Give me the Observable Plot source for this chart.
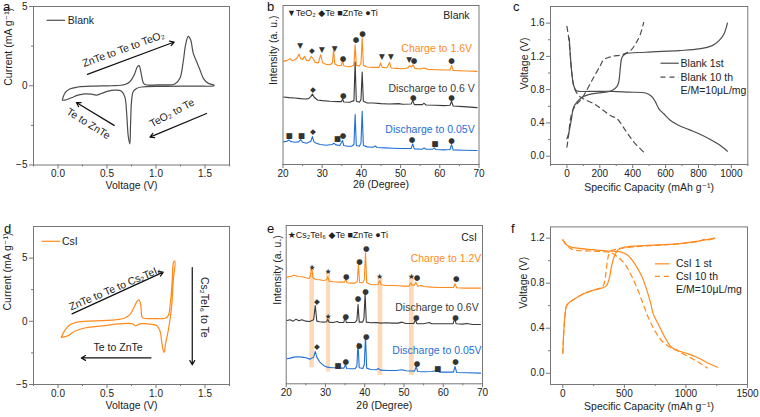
<!DOCTYPE html>
<html><head><meta charset="utf-8">
<script src="https://cdn.jsdelivr.net/npm/d3@7"></script>
<script src="https://cdn.jsdelivr.net/npm/@observablehq/plot@0.6"></script>
<style>
body{margin:0;background:#fff;}
#fig{position:relative;width:760px;height:417px;overflow:hidden;background:#fff;}
</style></head><body><div id="fig"></div>
<script>
// ---------- Panel a: CV, Blank ----------
const aVolt = [0.044,0.068,0.119,0.204,0.375,0.545,0.682,0.733,0.777,0.811,0.828,0.845,0.869,0.886,1.057,1.193,1.244,1.278,1.302,1.329,1.353,1.38,1.414,1.449,1.483,1.534,1.592,1.59,1.397,1.057,0.852,0.801,0.767,0.75,0.74,0.733,0.716,0.702,0.682,0.648,0.579,0.511,0.443,0.392,0.341,0.273,0.204,0.136,0.068,0.044];
const aCurr = [-0.91,-0.49,-0.21,-0.08,-0.02,0,0.08,0.25,0.68,1.21,1.27,0.89,0.21,0.08,0.06,0.11,0.47,1.53,2.58,3.11,2.9,2.06,1.53,1.0,0.47,0.15,0.04,0,-0.02,-0.04,-0.08,-0.17,-0.38,-1.02,-2.5,-3.67,-3.14,-1.86,-0.7,-0.34,-0.28,-0.34,-0.49,-0.59,-0.53,-0.51,-0.59,-0.76,-0.91,-0.91];

// ---------- Panel d: CV, CsI ----------
const dVolt = [0.034,0.068,0.119,0.187,0.375,0.579,0.682,0.733,0.777,0.811,0.828,0.845,0.859,0.879,0.988,1.091,1.125,1.149,1.166,1.179,1.193,1.176,1.159,1.125,1.097,1.084,1.07,1.057,1.04,1.005,0.92,0.852,0.818,0.791,0.767,0.716,0.614,0.477,0.375,0.273,0.17,0.102,0.034];
const dCurr = [-1.27,-0.74,-0.29,-0.08,0.03,0.11,0.26,0.53,1.11,1.64,1.69,1.24,0.32,0.24,0.21,0.24,0.45,1.64,3.23,4.68,4.76,3.23,1.11,-0.74,-1.8,-2.46,-2.2,-1.53,-0.74,-0.34,-0.21,-0.19,-0.26,-0.37,-0.21,-0.16,-0.21,-0.34,-0.42,-0.53,-0.79,-1.14,-1.27];

// ---------- Panel b: XRD, Blank ([2θ, intensity offset]) ----------
const bCharge = [[20.2,310],[21.0,313],[21.8,318],[22.3,312],[23.0,315],[23.6,320],[24.1,332],[24.5,318],[25.0,316],[25.5,325],[26.0,313],[26.6,312],[27.2,325],[27.6,320],[28.2,307],[29.0,305],[29.6,330],[30.1,306],[31.0,301],[32.0,300],[32.6,305],[32.9,345],[33.2,303],[34.0,297],[34.9,298],[35.2,312],[35.5,297],[36.5,294],[37.5,295],[38.1,300],[38.4,360],[38.7,298],[39.5,296],[39.9,305],[40.2,382],[40.5,298],[41.5,293],[43.0,292],[44.5,292],[44.9,305],[45.3,292],[46.5,291],[47.2,307],[47.6,290],[49.0,289],[50.5,288],[51.8,290],[52.3,297],[52.8,293],[53.2,300],[53.6,289],[55.0,287],[56.0,290],[57.0,286],[59.0,285],[61.0,284],[62.6,284],[63.0,298],[63.4,283],[65.0,282],[67.0,281],[69.5,280]];
const bDis06 = [[20.2,203],[21.5,201],[23.0,200],[24.5,198],[25.5,197],[26.5,198],[27.1,204],[27.5,212],[27.9,203],[28.8,194],[30.0,192],[32.0,190],[34.0,189],[34.9,189],[35.2,197],[35.5,188],[37.0,187],[38.1,192],[38.4,308],[38.7,190],[39.5,187],[39.9,195],[40.2,278],[40.5,190],[41.5,185],[43.0,185],[45.0,183],[47.0,182],[49.5,183],[50.5,181],[52.7,182],[53.1,192],[53.5,180],[55.5,180],[56.0,184],[56.5,179],[59.0,178],[61.0,177],[62.6,178],[63.0,190],[63.4,176],[66.0,174],[69.5,171]];
const bDis005 = [[20.2,68],[21.0,70],[21.5,74],[22.0,69],[23.0,67],[24.0,68],[24.5,75],[25.0,67],[26.0,64],[27.1,70],[27.5,84],[27.9,68],[28.5,64],[29.5,60],[31.0,58],[32.5,60],[33.0,64],[33.5,59],[34.5,57],[35.2,72],[35.5,57],[36.5,55],[37.5,55],[38.1,60],[38.4,150],[38.7,57],[39.5,55],[39.9,65],[40.2,160],[40.5,57],[41.5,53],[43.0,52],[43.5,56],[44.0,51],[46.0,50],[48.0,49],[50.0,48],[52.7,48],[53.1,62],[53.5,47],[55.5,46],[56.0,50],[56.5,46],[58.2,46],[58.6,50],[59.0,45],[61.0,44],[62.6,45],[63.0,60],[63.4,44],[66.0,43],[69.5,42]];
const bMarkers = [[24.4,356,"▼"],[27.4,341,"◆"],[29.9,346,"▼"],[33.2,348,"▼"],[35.3,317,"●"],[38.6,375,"●"],[40.3,395,"●"],[45.2,325,"▼"],[47.5,325,"▼"],[52.2,315,"▼"],[53.4,313,"●"],[63.0,312,"●"],
  [27.6,225,"◆"],[35.4,206,"●"],[53.2,200,"●"],[63.0,200,"●"],
  [21.6,88,"■"],[24.7,88,"■"],[27.6,100,"◆"],[33.9,79,"■"],[35.3,86,"●"],[52.9,75,"●"],[58.8,63,"■"],[63.0,73,"●"]];
const bLabels = [[59.2,347,"Charge to 1.6V","#ff8a1c"],[57.9,229,"Discharge to 0.6 V","#3a3a3a"],[57.5,106,"Discharge to 0.05V","#1f6fd6"]];

// ---------- Panel e: XRD, CsI ----------
const eCharge = [[20.2,320],[21.0,322],[22.0,326],[23.0,322],[24.0,321],[25.0,318],[25.8,316],[26.2,325],[26.5,355],[26.8,318],[27.5,313],[28.5,312],[29.5,310],[30.3,312],[30.6,322],[30.9,308],[32.0,306],[33.5,305],[34.8,305],[35.2,313],[35.5,303],[36.5,302],[37.5,302],[38.1,307],[38.4,357],[38.7,304],[39.5,303],[39.9,312],[40.2,393],[40.5,303],[41.5,298],[42.5,297],[43.4,298],[43.8,310],[44.2,297],[45.5,295],[47.0,295],[48.5,294],[50.0,293],[51.3,293],[51.7,303],[52.1,295],[52.6,296],[53.0,305],[53.5,293],[54.5,295],[55.0,292],[57.0,290],[59.0,289],[61.0,289],[62.6,289],[63.0,300],[63.4,288],[65.5,287],[67.0,287],[69.5,287]];
const eDis06 = [[20.2,190],[21.0,192],[21.8,188],[22.5,194],[23.2,189],[24.0,192],[25.0,188],[26.0,187],[27.0,192],[27.4,235],[27.8,188],[28.5,186],[29.5,185],[30.3,186],[30.6,194],[30.9,185],[32.0,184],[33.0,187],[33.5,184],[34.7,184],[35.0,205],[35.3,184],[36.5,184],[37.5,184],[38.0,190],[38.3,238],[38.6,185],[39.5,185],[39.8,196],[40.1,270],[40.4,185],[41.5,183],[43.0,184],[44.0,182],[45.5,183],[47.0,182],[48.5,182],[49.5,185],[50.5,181],[52.5,181],[52.9,192],[53.3,180],[55.0,180],[56.5,184],[57.0,180],[59.0,180],[61.0,180],[62.5,180],[62.9,195],[63.3,180],[65.0,179],[66.0,181],[67.5,178],[69.5,178]];
const eDis005 = [[20.2,75],[21.0,77],[22.0,80],[23.0,81],[24.0,80],[25.0,78],[26.0,74],[27.0,80],[27.4,97],[27.8,80],[28.5,66],[29.5,55],[30.5,50],[31.5,48],[32.7,48],[33.0,52],[33.3,47],[34.7,47],[35.1,58],[35.4,46],[36.5,45],[37.5,45],[38.0,52],[38.3,122],[38.6,48],[39.5,46],[39.9,58],[40.2,145],[40.5,47],[41.5,43],[43.0,42],[43.4,46],[44.0,41],[46.0,40],[48.0,40],[49.5,42],[50.5,39],[52.7,38],[53.1,52],[53.5,37],[55.0,36],[57.0,37],[58.5,40],[59.0,35],[61.0,35],[62.6,35],[63.0,52],[63.4,34],[66.0,33],[69.5,32]];
const eMarkers = [[26.6,350,"★"],[30.7,338,"★"],[35.3,322,"●"],[38.7,367,"●"],[40.4,405,"●"],[43.8,322,"★"],[51.9,323,"★"],[53.3,320,"●"],[63.3,315,"●"],
  [27.8,248,"◆"],[30.7,202,"★"],[35.2,202,"●"],[38.3,255,"●"],[40.2,278,"●"],[53.1,200,"●"],[63.1,200,"●"],
  [27.8,112,"◆"],[33.2,55,"■"],[35.2,68,"●"],[38.6,115,"●"],[40.4,142,"●"],[53.3,60,"●"],[58.6,45,"■"],[63.1,67,"●"]];
const eBands = [[26.0,27.2,48,335],[30.3,31.3,35,335],[43.4,44.6,25,320],[51.4,52.6,25,320]];
const eLabels = [[60.7,375,"Charge to 1.2V","#ff8a1c"],[58.4,229,"Discharge to 0.6V","#3a3a3a"],[58.4,99,"Discharge to 0.05V","#1f6fd6"]];

// ---------- Panel c: galvanostatic, Blank ([capacity, voltage]) ----------
const c1stDis = [[14,1.42],[20,1.23],[30,0.99],[41,0.85],[55,0.79],[71,0.78],[173,0.78],[274,0.78],[376,0.77],[478,0.76],[514,0.72],[539,0.65],[559,0.57],[589,0.51],[630,0.43],[681,0.37],[742,0.32],[803,0.27],[864,0.21],[925,0.14],[976,0.06]];
const c1stChg = [[0,0.21],[10,0.27],[26,0.43],[41,0.59],[61,0.65],[91,0.71],[152,0.75],[234,0.77],[274,0.79],[305,0.84],[315,0.89],[325,1.07],[335,1.19],[356,1.23],[478,1.25],[681,1.27],[803,1.29],[884,1.33],[925,1.39],[955,1.47],[976,1.6]];
const c10Dis = [[0,1.56],[10,1.43],[20,1.23],[30,0.99],[45,0.82],[71,0.73],[91,0.70],[173,0.62],[264,0.49],[305,0.45],[356,0.31],[407,0.17],[467,0.05]];
const c10Chg = [[0,0.11],[10,0.25],[20,0.43],[35,0.55],[61,0.63],[81,0.67],[102,0.73],[152,0.91],[203,1.09],[224,1.16],[274,1.2],[335,1.22],[386,1.27],[417,1.35],[447,1.47],[467,1.61]];

// ---------- Panel f: galvanostatic, CsI ----------
const f1stChg = [[0,0.178],[27,0.587],[41,0.616],[95,0.66],[177,0.711],[258,0.741],[313,0.756],[353,0.776],[380,0.853],[394,0.942],[421,1.046],[448,1.096],[503,1.12],[666,1.135],[938,1.15],[1100,1.173],[1236,1.2]];
const f1stDis = [[0,1.185],[27,1.144],[68,1.12],[258,1.096],[394,1.084],[476,1.076],[530,1.046],[584,0.972],[639,0.868],[679,0.75],[715,0.616],[734,0.527],[774,0.439],[829,0.32],[883,0.231],[938,0.2],[1019,0.172],[1101,0.136],[1182,0.089],[1258,0.053]];
const f10Chg = [[0,0.178],[27,0.587],[41,0.616],[95,0.66],[177,0.711],[258,0.741],[310,0.76],[330,0.78],[345,0.85],[360,0.98],[375,1.06],[395,1.09],[430,1.1],[503,1.115],[666,1.13],[938,1.15],[1100,1.17],[1150,1.19],[1180,1.185],[1236,1.2]];
const f10Dis = [[0,1.185],[68,1.105],[258,1.084],[394,1.07],[448,1.03],[503,0.972],[557,0.868],[611,0.735],[652,0.616],[693,0.498],[747,0.379],[802,0.29],[870,0.231],[938,0.196],[1019,0.148],[1101,0.098],[1174,0.047]];

// ---------- helpers ----------
const FONT = '"Liberation Sans", Arial, Helvetica, "DejaVu Sans", sans-serif';
const GRAY = "#4d4d4d", ORANGE = "#ff8a1c", BLUE = "#1f6fd6", DARK = "#3a3a3a", FRAME = "#777";
const fig = document.getElementById("fig");
function place(left, top, options) {
  const el = Plot.plot({...options, style: {fontFamily: FONT, fontSize: "10px", color: "#222", background: "transparent", overflow: "visible"}});
  el.style.position = "absolute"; el.style.left = left + "px"; el.style.top = top + "px";
  fig.appendChild(el);
}
const xAxes = (major, minor, fmt) => [
  Plot.axisX({ticks: major, tickFormat: fmt, tickSize: 4, tickPadding: 1, label: null, stroke: FRAME, fill: "#222", fontSize: 10}),
  Plot.axisX({ticks: minor, tickFormat: () => "", tickSize: 2, label: null, stroke: FRAME})
];
const yAxes = (major, minor, fmt) => [
  Plot.axisY({ticks: major, tickFormat: fmt, tickSize: 4, tickPadding: 2, label: null, stroke: FRAME, fill: "#222", fontSize: 10}),
  Plot.axisY({ticks: minor, tickFormat: () => "", tickSize: 2, label: null, stroke: FRAME})
];
const xTitle = (t, dy) => Plot.text([t], {text: d => d, frameAnchor: "bottom", dy, fontSize: 10.5, fill: "#222"});
const yTitle = (t, dx, dy = 0) => Plot.text([t], {text: d => d, frameAnchor: "left", rotate: -90, dx, dy, fontSize: 10.5, fill: "#222"});
const series = (data, stroke, dash) => Plot.line(data, {x: d => d[0], y: d => d[1], stroke, strokeWidth: 1.2, strokeDasharray: dash, curve: "catmull-rom"});
const xrd = (data, stroke) => Plot.line(data, {x: d => d[0], y: d => d[1], stroke, strokeWidth: 1.1});
const zip = (xs, ys) => xs.map((x, i) => [x, ys[i]]);
const MK = 7.5;

// ---------- a ----------
place(0, 0, {
  width: 250, height: 205, marginLeft: 33, marginRight: 21, marginTop: 6, marginBottom: 40.5,
  x: {domain: [-0.25, 1.75]}, y: {domain: [-5, 5]},
  marks: [
    Plot.frame({stroke: FRAME}),
    ...xAxes([0, 0.5, 1, 1.5], [-0.25, 0.25, 0.75, 1.25, 1.75], ".1f"),
    ...yAxes([-5, 0, 5], [-2.5, 2.5], "d"),
    xTitle("Voltage (V)", 24), yTitle("Current (mA g⁻¹)", -25),
    series(zip(aVolt, aCurr), GRAY),
    Plot.link([0], {x1: -0.116, x2: 0.072, y1: 4.13, y2: 4.13, stroke: GRAY, strokeWidth: 1.2}),
    Plot.text(["Blank"], {text: d => d, x: 0.1, y: 4.13, textAnchor: "start", fontSize: 10.5, fill: "#222"}),
    Plot.arrow([0], {x1: 0.30, y1: 0.72, x2: 1.186, y2: 2.76, stroke: "#111", strokeWidth: 1.2, headLength: 6}),
    Plot.arrow([0], {x1: 0.573, y1: -2.50, x2: 0.187, y2: -1.06, stroke: "#111", strokeWidth: 1.2, headLength: 6}),
    Plot.arrow([0], {x1: 1.516, y1: -1.75, x2: 0.938, y2: -3.24, stroke: "#111", strokeWidth: 1.2, headLength: 6}),
    Plot.text(["ZnTe to Te to TeO₂"], {text: d => d, x: 0.668, y: 2.31, rotate: -20, fontSize: 10.5, fill: "#222"}),
    Plot.text(["Te to ZnTe"], {text: d => d, x: 0.31, y: -2.39, rotate: 32, fontSize: 10.5, fill: "#222"}),
    Plot.text(["TeO₂ to Te"], {text: d => d, x: 1.163, y: -1.72, rotate: -28, fontSize: 10.5, fill: "#222"})
  ]
});

// ---------- d ----------
place(0, 205, {
  width: 250, height: 212, marginLeft: 33, marginRight: 21, marginTop: 21, marginBottom: 33,
  x: {domain: [-0.25, 1.75]}, y: {domain: [-5, 7.5]},
  marks: [
    Plot.frame({stroke: FRAME}),
    ...xAxes([0, 0.5, 1, 1.5], [-0.25, 0.25, 0.75, 1.25, 1.75], ".1f"),
    ...yAxes([-5, 0, 5], [-2.5, 2.5], "d"),
    xTitle("Voltage (V)", 24), yTitle("Current (mA g⁻¹)", -26, 5),
    series(zip(dVolt, dCurr), ORANGE),
    Plot.link([0], {x1: -0.167, x2: 0.02, y1: 6.33, y2: 6.33, stroke: ORANGE, strokeWidth: 1.2}),
    Plot.text(["CsI"], {text: d => d, x: 0.04, y: 6.33, textAnchor: "start", fontSize: 10.5, fill: "#222"}),
    Plot.arrow([0], {x1: 0.143, y1: 0.59, x2: 1.074, y2: 3.89, stroke: "#111", strokeWidth: 1.2, headLength: 6}),
    Plot.arrow([0], {x1: 0.948, y1: -2.9, x2: 0.238, y2: -2.9, stroke: "#111", strokeWidth: 1.2, headLength: 6}),
    Plot.arrow([0], {x1: 1.37, y1: 4.24, x2: 1.37, y2: -3.44, stroke: "#111", strokeWidth: 1.2, headLength: 6}),
    Plot.text(["ZnTe to Te to Cs₂TeI₆"], {text: d => d, x: 0.583, y: 2.62, rotate: -23, fontSize: 10.5, fill: "#222"}),
    Plot.text(["Te to ZnTe"], {text: d => d, x: 0.613, y: -2.06, fontSize: 10.5, fill: "#222"}),
    Plot.text(["Cs₂TeI₆ to Te"], {text: d => d, x: 1.493, y: 1.11, rotate: 90, fontSize: 10.5, fill: "#222"})
  ]
});

// ---------- b ----------
place(250, 0, {
  width: 255, height: 205, marginLeft: 32.5, marginRight: 26.5, marginTop: 5, marginBottom: 41,
  x: {domain: [20, 70]}, y: {domain: [0, 478], axis: null},
  marks: [
    Plot.frame({stroke: FRAME}),
    ...xAxes([20, 30, 40, 50, 60, 70], [25, 35, 45, 55, 65], "d"),
    xTitle("2θ (Degree)", 23), yTitle("Intensity (a. u.)", -9.5),
    xrd(bCharge, ORANGE), xrd(bDis06, DARK), xrd(bDis005, BLUE),
    Plot.text(bMarkers, {x: d => d[0], y: d => d[1], text: d => d[2], fontSize: MK, fill: "#333", fontFamily: "DejaVu Sans"}),
    Plot.text(bLabels, {x: d => d[0], y: d => d[1], text: d => d[2], fill: d => d[3], fontSize: 10.5}),
    Plot.text(["▼TeO₂ ◆Te ■ZnTe ●Ti"], {text: d => d, x: 21, y: 456, textAnchor: "start", fontSize: 9, fill: "#222"}),
    Plot.text(["Blank"], {text: d => d, x: 67.6, y: 448, textAnchor: "end", fontSize: 10.5, fill: "#222"})
  ]
});

// ---------- e ----------
place(250, 205, {
  width: 255, height: 212, marginLeft: 35.7, marginRight: 23, marginTop: 20, marginBottom: 33.7,
  x: {domain: [20, 70]}, y: {domain: [0, 475], axis: null},
  marks: [
    Plot.rect(eBands, {x1: d => d[0], x2: d => d[1], y1: d => d[2], y2: d => d[3], fill: "#fcd3ad", fillOpacity: 0.85}),
    Plot.frame({stroke: FRAME}),
    ...xAxes([20, 30, 40, 50, 60, 70], [25, 35, 45, 55, 65], "d"),
    xTitle("2θ (Degree)", 25), yTitle("Intensity (a. u.)", -9),
    xrd(eCharge, ORANGE), xrd(eDis06, DARK), xrd(eDis005, BLUE),
    Plot.text(eMarkers, {x: d => d[0], y: d => d[1], text: d => d[2], fontSize: MK, fill: "#333", fontFamily: "DejaVu Sans"}),
    Plot.text(eLabels, {x: d => d[0], y: d => d[1], text: d => d[2], fill: d => d[3], fontSize: 10.5}),
    Plot.text(["★Cs₂TeI₆ ◆Te ■ZnTe ●Ti"], {text: d => d, x: 20.4, y: 447, textAnchor: "start", fontSize: 9, fill: "#222"}),
    Plot.text(["CsI"], {text: d => d, x: 68.6, y: 440, textAnchor: "end", fontSize: 10.5, fill: "#222"})
  ]
});

// ---------- c ----------
place(505, 0, {
  width: 255, height: 205, marginLeft: 45, marginRight: 12.7, marginTop: 6, marginBottom: 41,
  x: {domain: [-100, 1100]}, y: {domain: [-0.1, 1.8]},
  marks: [
    Plot.frame({stroke: FRAME}),
    ...xAxes([0, 200, 400, 600, 800, 1000], [-100, 100, 300, 500, 700, 900, 1100], "d"),
    ...yAxes([0, 0.4, 0.8, 1.2, 1.6], [0.2, 0.6, 1.0, 1.4], ".1f"),
    xTitle("Specific Capacity (mAh g⁻¹)", 26), yTitle("Voltage (V)", -26, 4),
    series(c1stDis, GRAY), series(c1stChg, GRAY),
    series(c10Dis, GRAY, "5,4"), series(c10Chg, GRAY, "5,4"),
    Plot.link([0], {x1: 569, x2: 680, y1: 1.118, y2: 1.118, stroke: GRAY, strokeWidth: 1.2}),
    Plot.link([0], {x1: 569, x2: 680, y1: 0.95, y2: 0.95, stroke: GRAY, strokeWidth: 1.2, strokeDasharray: "5,4"}),
    Plot.text(["Blank 1st", "Blank 10 th", "E/M=10μL/mg"], {text: d => d, x: 691, y: (d, i) => [1.118, 0.95, 0.79][i], textAnchor: "start", fontSize: 10.5, fill: "#222"})
  ]
});

// ---------- f ----------
place(505, 205, {
  width: 255, height: 212, marginLeft: 45, marginRight: 13, marginTop: 21.4, marginBottom: 33,
  x: {domain: [-100, 1500]}, y: {domain: [-0.1, 1.3]},
  marks: [
    Plot.frame({stroke: FRAME}),
    ...xAxes([0, 500, 1000, 1500], [250, 750, 1250], "d"),
    ...yAxes([0, 0.4, 0.8, 1.2], [0.2, 0.6, 1.0], ".1f"),
    xTitle("Specific Capacity (mAh g⁻¹)", 25.5), yTitle("Voltage (V)", -26.7, 3),
    series(f1stChg, ORANGE), series(f1stDis, ORANGE),
    series(f10Chg, ORANGE, "5,4"), series(f10Dis, ORANGE, "5,4"),
    Plot.link([0], {x1: 748, x2: 867, y1: 0.972, y2: 0.972, stroke: ORANGE, strokeWidth: 1.2}),
    Plot.link([0], {x1: 748, x2: 867, y1: 0.86, y2: 0.86, stroke: ORANGE, strokeWidth: 1.2, strokeDasharray: "5,4"}),
    Plot.text(["CsI 1 st", "CsI 10 th", "E/M=10μL/mg"], {text: d => d, x: 919, y: (d, i) => [0.972, 0.86, 0.744][i], textAnchor: "start", fontSize: 10.5, fill: "#222"})
  ]
});

// ---------- panel letters ----------
const ns = "http://www.w3.org/2000/svg";
const ov = document.createElementNS(ns, "svg");
ov.setAttribute("width", 760); ov.setAttribute("height", 417);
ov.style.position = "absolute"; ov.style.left = "0"; ov.style.top = "0"; ov.style.pointerEvents = "none";
[["a", 3, 11], ["b", 267, 11], ["c", 513, 10.5], ["d", 4, 233], ["e", 267, 233], ["f", 511, 233]].forEach(([t, x, y]) => {
  const el = document.createElementNS(ns, "text");
  el.setAttribute("x", x); el.setAttribute("y", y);
  el.setAttribute("font-family", FONT); el.setAttribute("font-size", 13); el.setAttribute("fill", "#111");
  el.textContent = t; ov.appendChild(el);
});
fig.appendChild(ov);
</script></body></html>
